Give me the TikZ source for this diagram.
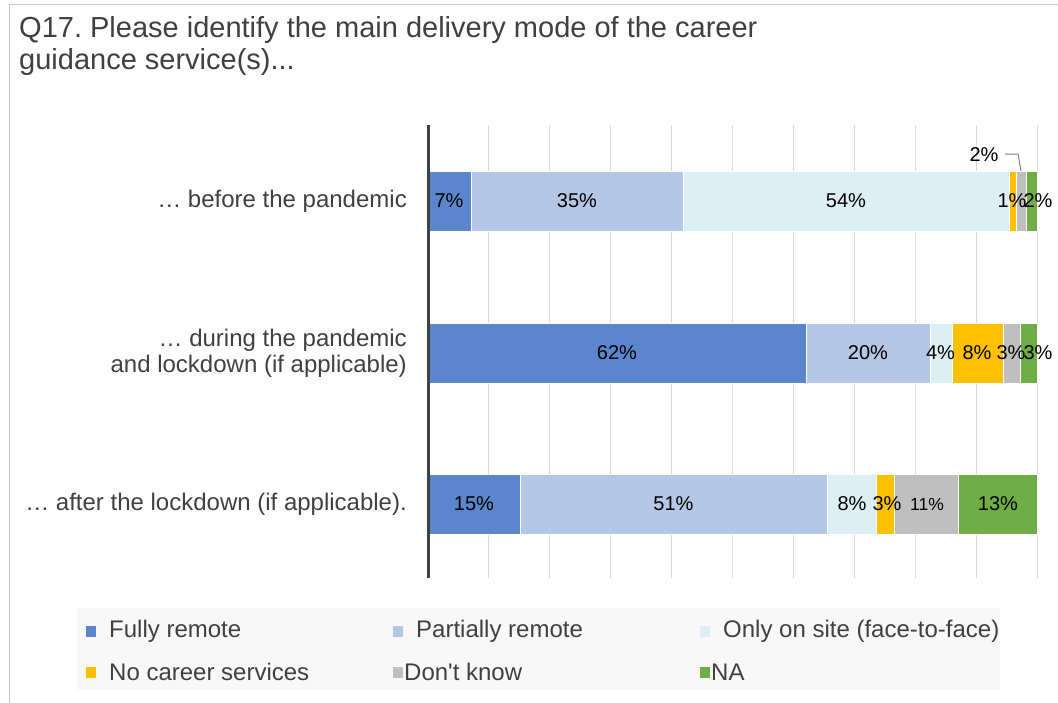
\documentclass[tikz,border=0pt]{standalone}
\usepackage{fontspec}
\setmainfont{Liberation Sans}
\frenchspacing
\definecolor{txt}{HTML}{404040}
\definecolor{cfull}{HTML}{5B86CD}
\definecolor{cpart}{HTML}{B4C7E7}
\definecolor{csite}{HTML}{DDEEF5}
\definecolor{cno}{HTML}{FFC000}
\definecolor{cdk}{HTML}{BFBFBF}
\definecolor{cna}{HTML}{70AD47}
\definecolor{grid}{HTML}{D9D9D9}
\definecolor{frame}{HTML}{C8C8C8}
\definecolor{legbg}{HTML}{F8F8F8}
\newcommand\barseg[5]{% name, color, x0, x1, y
  \node[segbox, fill=#2, minimum width={(#4-#3)*1pt}] (#1) at ({(#3+#4)/2},#5) {};}
\begin{document}
\begin{tikzpicture}[x=1pt,y=-1pt,
  segbox/.style={draw=white, line width=1pt, inner sep=0pt, outer sep=0pt, minimum height=60pt, rectangle},
  pct/.style={font=\fontsize{20}{22}\selectfont, text=black, inner sep=0pt},
  cat/.style={font=\fontsize{24}{26}\selectfont, text=txt, align=right, anchor=east, inner sep=0pt},
  legtxt/.style={font=\fontsize{24}{26}\selectfont, text=txt, anchor=west, inner sep=0pt},
  legmark/.style={minimum width=10pt, minimum height=11pt, inner sep=0pt, outer sep=0pt},
  gridline/.style={draw=grid, line width=1pt}]
\useasboundingbox (0,0) rectangle (1058,702);
\fill[white] (0,0) rectangle (1058,702);
\draw[frame, line width=1pt] (9,4) -- (1070,4);
\draw[frame, line width=1pt] (9,4) -- (9,710);
% title
\node[anchor=north west, inner sep=0pt, align=left, text=txt, font=\fontsize{29}{32}\selectfont] (title) at (19,16) {Q17. Please identify the main delivery mode of the career\\guidance service(s)...};
% gridlines
\foreach \i in {1,...,10} {\draw[gridline] ({428+60.9*\i},125) -- ({428+60.9*\i},578);}
% row 1
\barseg{ra1}{cfull}{428}{471}{201}
\barseg{ra2}{cpart}{471}{683}{201}
\barseg{ra3}{csite}{683}{1009}{201}
\barseg{ra4}{cno}{1009}{1016}{201}
\barseg{ra5}{cdk}{1016}{1026}{201}
\barseg{ra6}{cna}{1026}{1037}{201}
% row 2
\barseg{rb1}{cfull}{428}{806}{353}
\barseg{rb2}{cpart}{806}{930}{353}
\barseg{rb3}{csite}{930}{952}{353}
\barseg{rb4}{cno}{952}{1003}{353}
\barseg{rb5}{cdk}{1003}{1020}{353}
\barseg{rb6}{cna}{1020}{1037}{353}
% row 3
\barseg{rc1}{cfull}{428}{520}{504}
\barseg{rc2}{cpart}{520}{827}{504}
\barseg{rc3}{csite}{827}{876}{504}
\barseg{rc4}{cno}{876}{894}{504}
\barseg{rc5}{cdk}{894}{958}{504}
\barseg{rc6}{cna}{958}{1037}{504}
% axis
\draw[txt, line width=3pt] (428,125) -- (428,578);
% labels row 1
\node[pct] at (449,201) {7\%};
\node[pct] at (ra2) {35\%};
\node[pct] at (ra3) {54\%};
\node[pct] at (1012,201) {1\%};
\node[pct] at (1038,201) {2\%};
\node[pct] (lab2) at (984,155) {2\%};
\coordinate (cb) at (1018,154);
\draw[gray, line width=1pt] (1005,154) -- (cb) -- (ra5.north);
% labels row 2
\node[pct] at (rb1) {62\%};
\node[pct] at (rb2) {20\%};
\node[pct] at (940.5,353) {4\%};
\node[pct] at (977,353) {8\%};
\node[pct] at (1011,353) {3\%};
\node[pct] at (1038,353) {3\%};
% labels row 3
\node[pct] at (474,504) {15\%};
\node[pct] at (rc2) {51\%};
\node[pct] at (852,504) {8\%};
\node[pct] at (887,504) {3\%};
\node[pct, font=\fontsize{17.5}{20}\selectfont] at (927,504) {11\%};
\node[pct] at (998,504) {13\%};
% categories
\node[cat] (c1) at (407,201) {\dots{} before the pandemic};
\node[cat] (c2) at (407,353) {\dots{} during the pandemic\\and lockdown (if applicable)};
\node[cat] (c3) at (407,504) {\dots{} after the lockdown (if applicable).};
% legend
\fill[legbg] (77,608) rectangle (1000,690);
\node[legmark, fill=cfull] (m1) at (91,631) {};
\node[legtxt] at (109,631) {Fully remote};
\node[legmark, fill=cpart] (m2) at (398,631) {};
\node[legtxt] at (416,631) {Partially remote};
\node[legmark, fill=csite] (m3) at (705,631) {};
\node[legtxt] at (723,631) {Only on site (face-to-face)};
\node[legmark, fill=cno] (m4) at (91,672) {};
\node[legtxt] at (109,672) {No career services};
\node[legmark, fill=cdk] (m5) at (398,672) {};
\node[legtxt] at (404,672) {Don\textquotesingle t know};
\node[legmark, fill=cna] (m6) at (705,672) {};
\node[legtxt] at (711,672) {NA};
\end{tikzpicture}
\end{document}
